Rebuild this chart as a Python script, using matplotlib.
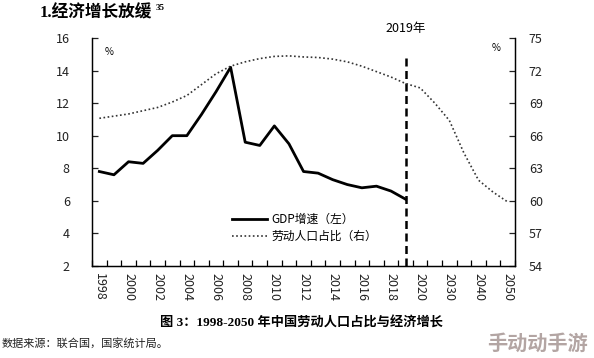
import numpy as np
import matplotlib
matplotlib.use("Agg")
import matplotlib.pyplot as plt

plt.rcParams['font.family'] = ['Noto Sans CJK SC', 'DejaVu Sans']

# categories on the x axis (one slot per category, Excel style)
years = [1998, 1999, 2000, 2001, 2002, 2003, 2004, 2005, 2006, 2007, 2008,
         2009, 2010, 2011, 2012, 2013, 2014, 2015, 2016, 2017, 2018, 2019,
         2020, 2025, 2030, 2035, 2040, 2045, 2050]
tick_years = [1998, 2000, 2002, 2004, 2006, 2008, 2010, 2012, 2014, 2016,
              2018, 2020, 2030, 2040, 2050]

# GDP growth, % (left axis), 1998-2019
gdp = [7.8, 7.6, 8.4, 8.3, 9.1, 10.0, 10.0, 11.3, 12.7, 14.2, 9.6,
       9.4, 10.6, 9.5, 7.8, 7.7, 7.3, 7.0, 6.8, 6.9, 6.6, 6.1]

# working-age population share, % (right axis), 1998-2050
labor = [67.6, 67.8, 68.0, 68.3, 68.6, 69.1, 69.7, 70.7, 71.7, 72.4, 72.8,
         73.1, 73.3, 73.35, 73.25, 73.2, 73.05, 72.8, 72.4, 71.9, 71.4, 70.8,
         70.4, 69.0, 67.4, 64.4, 61.9, 60.8, 59.9]

pos = np.arange(len(years))
pos_of = {y: i for i, y in enumerate(years)}

fig = plt.figure(figsize=(5.94, 3.58), dpi=100)
ax = fig.add_axes([0.155, 0.257, 0.712, 0.637])
ax2 = ax.twinx()

l1, = ax.plot(pos[:len(gdp)], gdp, color='black', lw=2.0, solid_joinstyle='round',
              label='GDP增速（左）')
l2, = ax2.plot(pos, labor, color='#333333', lw=1.2, linestyle=(0, (1, 1.5)),
               label='劳动人口占比（右）')

ax.axvline(pos_of[2019], ymin=0, ymax=0.925, color='black', lw=1.8,
           linestyle=(0, (3.2, 1.8)))

ax.set_xlim(-0.5, len(years) - 0.5)
ax.set_ylim(2, 16)
ax.set_yticks(np.arange(2, 17, 2))
ax2.set_ylim(54, 75)
ax2.set_yticks(np.arange(54, 76, 3))

ax.set_xticks([pos_of[y] for y in tick_years])
ax.set_xticklabels([str(y) for y in tick_years], rotation=-90, fontsize=9,
                   color='#222222')
ax.set_xticks(np.arange(-0.5, len(years), 1), minor=True)
ax.tick_params(axis='x', which='major', length=0, pad=5)
ax.tick_params(axis='x', which='minor', direction='in', length=4, width=0.9)
ax.tick_params(axis='y', direction='in', length=4, width=0.9, labelsize=9,
               pad=16, colors='#222222')
ax2.tick_params(axis='y', direction='in', length=4, width=0.9, labelsize=9,
                pad=10, colors='#222222')

for a in (ax, ax2):
    a.spines['top'].set_visible(False)
    for s in ('left', 'right', 'bottom'):
        a.spines[s].set_linewidth(0.9)

ax.text(0.04, 0.94, '%', transform=ax.transAxes, fontsize=7, ha='center', va='center')
ax.text(0.955, 0.955, '%', transform=ax.transAxes, fontsize=7, ha='center', va='center')
ax.text(pos_of[2019], 16.2, '2019年', fontsize=9, ha='center', va='bottom')

ax.legend(handles=[l1, l2], loc='lower left', bbox_to_anchor=(0.305, 0.055),
          frameon=False, fontsize=8.5, handlelength=3.0, handletextpad=0.4,
          labelspacing=0.3)

fig.text(0.067, 0.962, '1.经济增长放缓', fontsize=12, fontweight='bold',
         family=['Liberation Serif', 'Noto Sans CJK SC'], va='center')
fig.text(0.262, 0.978, '35', fontsize=6.5, fontweight='bold',
         family=['Liberation Serif'], va='center')

fig.text(0.508, 0.098, '图 3：1998-2050 年中国劳动人口占比与经济增长', fontsize=9.5,
         fontweight='bold', family=['Liberation Serif', 'Noto Sans CJK SC'],
         ha='center', va='center')
fig.text(0.003, 0.042, '数据来源：联合国，国家统计局。', fontsize=8,
         color='#222222', va='center')
fig.text(0.905, 0.042, '手动动手游', fontsize=14.5, fontweight='heavy',
         color='#b3a5a3', ha='center', va='center')

fig.savefig('out.png', dpi=100)
